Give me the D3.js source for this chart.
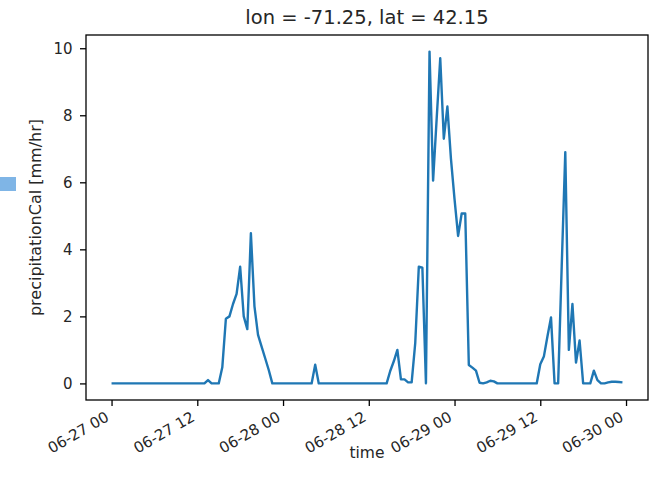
<!DOCTYPE html>
<html>
<head>
<meta charset="utf-8">
<script src="https://cdn.jsdelivr.net/npm/d3@7"></script>
<style>
  html, body { margin: 0; padding: 0; background: #ffffff; }
  svg { display: block; }
  text { font-family: "DejaVu Sans", sans-serif; fill: #262626; }
</style>
</head>
<body>
<svg id="chart" width="652" height="491"></svg>
<script>
// ---------- data ----------
const titleText = "lon = -71.25, lat = 42.15";
const yLabelText = "precipitationCal [mm/hr]";
const xLabelText = "time";
const startTime = "2019-06-27T00:00:00Z";   // first sample
const stepMinutes = 30;                       // half-hourly samples
const precipitation = [
  0, 0, 0, 0, 0, 0, 0, 0, 0, 0,
  0, 0, 0, 0, 0, 0, 0, 0, 0, 0,
  0, 0, 0, 0, 0, 0, 0, 0.1, 0, 0,
  0, 0.48, 1.93, 2.0, 2.37, 2.67, 3.48, 2.0, 1.62, 4.48,
  2.3, 1.45, 1.1, 0.75, 0.4, 0, 0, 0, 0, 0,
  0, 0, 0, 0, 0, 0, 0, 0.56, 0, 0,
  0, 0, 0, 0, 0, 0, 0, 0, 0, 0,
  0, 0, 0, 0, 0, 0, 0, 0, 0.37, 0.66,
  1.0, 0.12, 0.12, 0.03, 0.03, 1.2, 3.48, 3.45, 0, 9.9,
  6.05, 7.9, 9.7, 7.3, 8.26, 6.7, 5.5, 4.4, 5.07, 5.07,
  0.55, 0.47, 0.38, 0.02, 0, 0.03, 0.08, 0.06, 0, 0,
  0, 0, 0, 0, 0, 0, 0, 0, 0, 0,
  0.57, 0.8, 1.4, 1.97, 0, 0, 3.5, 6.9, 1.0, 2.37,
  0.62, 1.28, 0, 0, 0, 0.38, 0.1, 0, 0, 0.03,
  0.05, 0.05, 0.04, 0.03
];
const yTicks = [0, 2, 4, 6, 8, 10];
const xTickHours = [0, 12, 24, 36, 48, 60, 72];  // offsets from start
const xTickFormat = "%m-%d %H";

// ---------- layout ----------
const margin = { left: 86, right: 4, top: 35, bottom: 91 };
const W = 652, H = 491;
const tickFont = 15;
const labelFont = 16.5;

const svg = d3.select("#chart");
const t0 = new Date(startTime);
const times = precipitation.map((_, i) => new Date(t0.getTime() + i * stepMinutes * 60000));
const series = precipitation.map((v, i) => ({ t: times[i], v }));

// matplotlib-style 5% margins
const tMin = d3.min(times), tMax = d3.max(times);
const tPad = (tMax - tMin) * 0.05;
const vMin = d3.min(precipitation), vMax = d3.max(precipitation);
const vPad = (vMax - vMin) * 0.05;

const x = d3.scaleUtc()
  .domain([new Date(+tMin - tPad), new Date(+tMax + tPad)])
  .range([margin.left, W - margin.right]);
const y = d3.scaleLinear()
  .domain([vMin - vPad, vMax + vPad])
  .range([H - margin.bottom, margin.top]);

// left-edge decoration (light blue block)
svg.append("rect").attr("x", 0).attr("y", 177).attr("width", 16).attr("height", 14)
  .attr("fill", "#7fb5e6");

// line
svg.append("path")
  .datum(series)
  .attr("fill", "none")
  .attr("stroke", "#1f77b4")
  .attr("stroke-width", 2.4)
  .attr("stroke-linejoin", "round")
  .attr("stroke-linecap", "butt")
  .attr("d", d3.line().x(d => x(d.t)).y(d => y(d.v)));

// axes frame
const plotL = margin.left, plotR = W - margin.right, plotT = margin.top, plotB = H - margin.bottom;
svg.append("rect").attr("x", plotL).attr("y", plotT)
  .attr("width", plotR - plotL).attr("height", plotB - plotT)
  .attr("fill", "none").attr("stroke", "#000").attr("stroke-width", 1.3);

// x axis
const xTickDates = xTickHours.map(h => new Date(t0.getTime() + h * 3600000));
const xAxis = d3.axisBottom(x).tickValues(xTickDates)
  .tickFormat(d3.utcFormat(xTickFormat)).tickSize(6).tickPadding(0);
const gx = svg.append("g").attr("transform", `translate(0,${plotB})`).call(xAxis);
gx.select(".domain").remove();
gx.selectAll(".tick line").attr("stroke", "#000").attr("stroke-width", 1.3);
gx.selectAll(".tick text")
  .attr("font-size", tickFont)
  .attr("font-family", "DejaVu Sans")
  .attr("fill", "#262626")
  .attr("text-anchor", "end")
  .attr("dy", null)
  .attr("y", null)
  .attr("transform", "translate(-2,20) rotate(-30)");

// y axis
const yAxis = d3.axisLeft(y).tickValues(yTicks).tickSize(6).tickPadding(7.5);
const gy = svg.append("g").attr("transform", `translate(${plotL},0)`).call(yAxis);
gy.select(".domain").remove();
gy.selectAll(".tick line").attr("stroke", "#000").attr("stroke-width", 1.3);
gy.selectAll(".tick text")
  .attr("font-size", tickFont)
  .attr("font-family", "DejaVu Sans")
  .attr("fill", "#262626");

// labels
svg.append("text").attr("x", (plotL + plotR) / 2).attr("y", 24)
  .attr("text-anchor", "middle").attr("font-size", 19.5).text(titleText);
svg.append("text").attr("x", (plotL + plotR) / 2).attr("y", 458)
  .attr("text-anchor", "middle").attr("font-size", labelFont - 1).text(xLabelText);
svg.append("text")
  .attr("transform", `translate(41,${(plotT + plotB) / 2}) rotate(-90)`)
  .attr("text-anchor", "middle").attr("font-size", labelFont - 0.5).text(yLabelText);
</script>
</body>
</html>
